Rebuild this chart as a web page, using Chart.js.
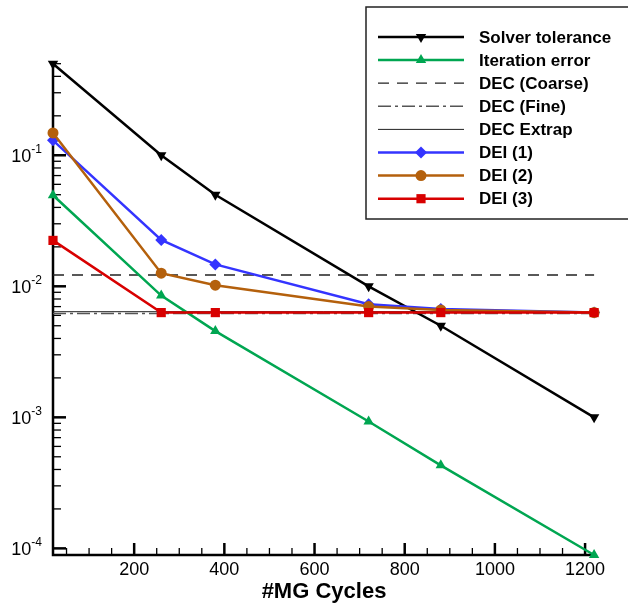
<!DOCTYPE html>
<html>
<head>
<meta charset="utf-8">
<script src="https://cdn.jsdelivr.net/npm/chart.js@4"></script>
<style>
  html, body { margin: 0; padding: 0; background: #fff; }
  #wrap { width: 628px; height: 604px; }
</style>
</head>
<body>
<div id="wrap"><canvas id="myChart" width="628" height="604"></canvas></div>
<script>
// values
const cycles = [20, 260, 380, 720, 880, 1220]
const solverTol = [0.5, 0.1, 0.05, 0.01, 0.005, 0.001]
const iterErr = [0.0495, 0.0085, 0.00455, 0.00093, 0.00043, 0.000089]
const dei1 = [0.13, 0.0226, 0.0147, 0.0073, 0.0067, 0.0063]
const dei2 = [0.148, 0.0126, 0.0102, 0.0070, 0.0066, 0.0063]
const dei3 = [0.0224, 0.0063, 0.0063, 0.0063, 0.0063, 0.0063]
const decSpan = [20, 1220]
const decCoarse = 0.0122
const decFine = 0.0062
const decExtrap = 0.0064
const xTicks = [200, 400, 600, 800, 1000, 1200]
const yDecades = [-4, -3, -2, -1]

const FONT = "'Liberation Sans', Arial, sans-serif"

function pts(xs, ys) {
  return xs.map((x, i) => ({ x: x, y: ys[i] }))
}
function flat(v) {
  return decSpan.map(x => ({ x: x, y: v }))
}

const GREEN = "#00a651", BLUE = "#3434ff", BROWN = "#b4600c", RED = "#d80000"

const sets = [
  { label: "Solver tolerance", data: pts(cycles, solverTol), borderColor: "#000", backgroundColor: "#000",
    borderWidth: 2.5, pointStyle: "triangle", rotation: 180, pointRadius: 6, order: 4 },
  { label: "Iteration error", data: pts(cycles, iterErr), borderColor: GREEN, backgroundColor: GREEN,
    borderWidth: 2.5, pointStyle: "triangle", pointRadius: 6, order: 3 },
  { label: "DEC (Coarse)", data: flat(decCoarse), borderColor: "#222", borderWidth: 1.3,
    borderDash: [11, 8], pointRadius: 0, order: 7 },
  { label: "DEC (Fine)", data: flat(decFine), borderColor: "#555", borderWidth: 1.5,
    borderDash: [13, 4, 3, 4], pointRadius: 0, order: 6 },
  { label: "DEC Extrap", data: flat(decExtrap), borderColor: "#222", borderWidth: 1,
    pointRadius: 0, order: 5 },
  { label: "DEI (1)", data: pts(cycles, dei1), borderColor: BLUE, backgroundColor: BLUE,
    borderWidth: 2.5, pointStyle: "rectRot", pointRadius: 6, order: 2 },
  { label: "DEI (2)", data: pts(cycles, dei2), borderColor: BROWN, backgroundColor: BROWN,
    borderWidth: 2.5, pointStyle: "circle", pointRadius: 5.5, order: 1 },
  { label: "DEI (3)", data: pts(cycles, dei3), borderColor: RED, backgroundColor: RED,
    borderWidth: 2.5, pointStyle: "rect", pointRadius: 6.5, order: 0 }
]
sets.forEach(s => { s.clip = false; s.tension = 0; s.pointBorderWidth = 0; s.pointHoverRadius = s.pointRadius })

function marker(ctx, style, x, y, r, rot) {
  ctx.beginPath()
  if (style === "circle") {
    ctx.arc(x, y, r, 0, Math.PI * 2)
  } else if (style === "rect") {
    const h = r * Math.SQRT1_2
    ctx.rect(x - h, y - h, 2 * h, 2 * h)
  } else if (style === "rectRot") {
    ctx.moveTo(x, y - r); ctx.lineTo(x + r, y); ctx.lineTo(x, y + r); ctx.lineTo(x - r, y)
  } else if (style === "triangle") {
    let a = (rot || 0) * Math.PI / 180
    for (let k = 0; k < 3; k++) {
      const px = x + Math.sin(a) * r, py = y - Math.cos(a) * r
      if (k === 0) ctx.moveTo(px, py); else ctx.lineTo(px, py)
      a += Math.PI * 2 / 3
    }
  }
  ctx.closePath()
  ctx.fill()
}

// axes, inward ticks and labels
const axesPlugin = {
  id: "axesPlugin",
  beforeDatasetsDraw(chart) {
    const ctx = chart.ctx
    const a = chart.chartArea
    const xs = chart.scales.x, ys = chart.scales.y
    ctx.save()
    ctx.strokeStyle = "#000"
    // x ticks
    for (let v = 50; v <= 1200; v += 50) {
      const px = xs.getPixelForValue(v)
      if (px < a.left + 2) continue
      const len = (v % 200 === 0) ? 12 : 7
      ctx.lineWidth = (v % 200 === 0) ? 2.5 : 1.3
      ctx.beginPath(); ctx.moveTo(px, a.bottom); ctx.lineTo(px, a.bottom - len); ctx.stroke()
    }
    // y ticks
    yDecades.concat([0]).forEach(d => {
      for (let m = 1; m <= 9; m++) {
        const v = m * Math.pow(10, d)
        if (v < ys.min || v > ys.max) continue
        const py = ys.getPixelForValue(v)
        const len = m === 1 ? 13 : 8
        ctx.lineWidth = m === 1 ? 2.5 : 1.3
        ctx.beginPath(); ctx.moveTo(a.left, py); ctx.lineTo(a.left + len, py); ctx.stroke()
      }
    })
    // axis lines
    ctx.lineWidth = 2.5
    ctx.beginPath()
    ctx.moveTo(a.left, a.top); ctx.lineTo(a.left, a.bottom); ctx.lineTo(a.right, a.bottom)
    ctx.stroke()

    // labels
    ctx.fillStyle = "#000"
    ctx.font = "18px " + FONT
    ctx.textAlign = "center"
    ctx.textBaseline = "alphabetic"
    xTicks.forEach(v => ctx.fillText(String(v), xs.getPixelForValue(v), 575))

    yDecades.forEach(d => {
      const py = ys.getPixelForValue(Math.pow(10, d))
      ctx.textAlign = "left"
      ctx.font = "12px " + FONT
      const sup = String(d)
      const sw = ctx.measureText(sup).width
      ctx.font = "18px " + FONT
      const bw = ctx.measureText("10").width
      const right = 42
      ctx.fillText("10", right - sw - bw, py + 7)
      ctx.font = "12px " + FONT
      ctx.fillText(sup, right - sw, py - 2)
    })

    ctx.font = "bold 22px " + FONT
    ctx.textAlign = "center"
    ctx.fillText("#MG Cycles", (a.left + a.right) / 2, 598)
    ctx.restore()
  },
  afterDraw(chart) {
    const ctx = chart.ctx
    ctx.save()
    ctx.fillStyle = "#fff"
    ctx.strokeStyle = "#222"
    ctx.lineWidth = 1.5
    ctx.fillRect(366, 7, 280, 212)
    ctx.strokeRect(366, 7, 280, 212)
    chart.data.datasets.forEach((ds, i) => {
      const y = 37 + i * 23.1
      ctx.strokeStyle = ds.borderColor
      ctx.lineWidth = ds.borderWidth
      ctx.setLineDash(ds.borderDash || [])
      ctx.beginPath(); ctx.moveTo(378, y); ctx.lineTo(464, y); ctx.stroke()
      ctx.setLineDash([])
      if (ds.pointRadius > 0) {
        ctx.fillStyle = ds.backgroundColor
        marker(ctx, ds.pointStyle, 421, y, ds.pointRadius, ds.rotation)
      }
      ctx.fillStyle = "#000"
      ctx.font = "bold 17px " + FONT
      ctx.textAlign = "left"
      ctx.textBaseline = "middle"
      ctx.fillText(ds.label, 479, y + 1)
    })
    ctx.restore()
  }
}

const myChart = new Chart("myChart", {
  type: "line",
  data: { datasets: sets },
  options: {
    responsive: false,
    animation: false,
    events: [],
    layout: { padding: { left: 53, top: 62, right: 33, bottom: 49 } },
    plugins: { legend: { display: false }, tooltip: { enabled: false } },
    scales: {
      x: {
        type: "linear", min: 20, max: 1222,
        grid: { display: false }, border: { display: false },
        ticks: { display: false },
        afterFit(s) { s.height = 0; s.paddingLeft = 0; s.paddingRight = 0 }
      },
      y: {
        type: "logarithmic", min: 8.9e-5, max: 0.515,
        grid: { display: false }, border: { display: false },
        ticks: { display: false },
        afterFit(s) { s.width = 0; s.paddingTop = 0; s.paddingBottom = 0 }
      }
    }
  },
  plugins: [axesPlugin]
})
</script>
</body>
</html>
